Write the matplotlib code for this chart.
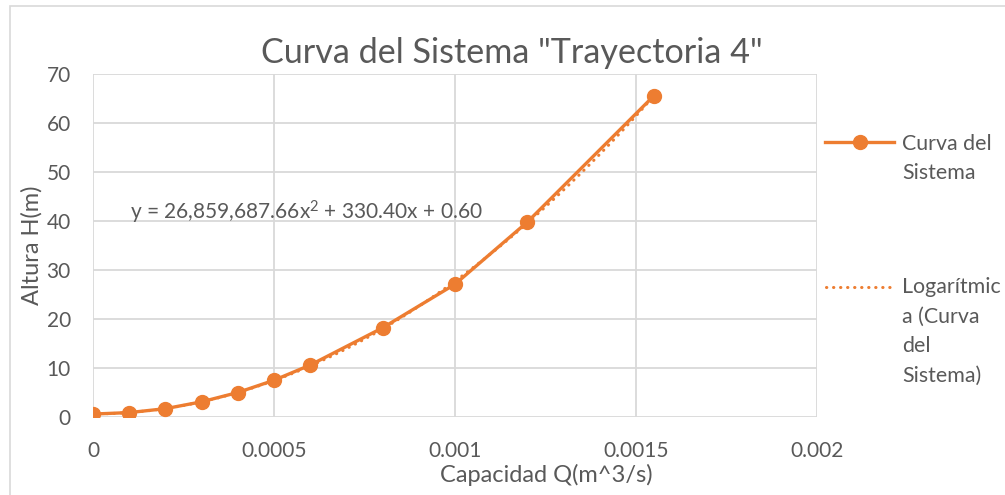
import numpy as np
import matplotlib
matplotlib.use("Agg")
import matplotlib.pyplot as plt
from matplotlib.lines import Line2D
from matplotlib.patches import Rectangle

# Data
caudal = [0, 0.0001, 0.0002, 0.0003, 0.0004, 0.0005, 0.0006, 0.0008, 0.001, 0.0012, 0.00155]
altura = [0.6, 0.9, 1.7, 3.1, 5.0, 7.5, 10.6, 18.2, 27.1, 39.8, 65.6]
x_ticks = [0, 0.0005, 0.001, 0.0015, 0.002]
x_tick_labels = ["0", "0.0005", "0.001", "0.0015", "0.002"]
y_ticks = [0, 10, 20, 30, 40, 50, 60, 70]
title = 'Curva del Sistema "Trayectoria 4"'
x_label = "Capacidad Q(m^3/s)"
y_label = "Altura H(m)"
equation = "y = 26,859,687.66x$^2$ + 330.40x + 0.60"
series_label = ["Curva del", "Sistema"]
trend_label = ["Logarítmic", "a (Curva", "del", "Sistema)"]

W, H = 1005, 495
ORANGE = "#ED7D31"
GRID = "#D9D9D9"
TXT = "#595959"
FONT = "Lato"
DOTS = (0, (0.1, 2.2))
plt.rcParams["font.family"] = [FONT, "DejaVu Sans"]
plt.rcParams["mathtext.fontset"] = "custom"
plt.rcParams["mathtext.rm"] = FONT
plt.rcParams["mathtext.it"] = FONT

fig = plt.figure(figsize=(W / 100, H / 100), dpi=100)
fig.patch.set_facecolor("white")

def fx(px):
    return px / W

def fy(py):
    return 1 - py / H

# outer chart border
fig.add_artist(Rectangle((fx(10), fy(520)), fx(1100) - fx(10), fy(6) - fy(520),
                         transform=fig.transFigure, fill=False, edgecolor=GRID, lw=1.2))

L, R, T, B = 93, 817, 74, 417
ax = fig.add_axes([fx(L), fy(B), fx(R) - fx(L), fy(T) - fy(B)])

# trendline (polynomial order 2 fit of the data)
coef = np.polyfit(caudal, altura, 2)
xs = np.linspace(min(caudal), max(caudal), 200)
ax.plot(xs, np.polyval(coef, xs), linestyle=DOTS, color=ORANGE, lw=2.2,
        dash_capstyle="round", zorder=3)
ax.plot(caudal, altura, color=ORANGE, lw=2.4, marker="o", markersize=10, zorder=4)

ax.set_xlim(0, 0.002)
ax.set_ylim(0, 70)
ax.set_xticks(x_ticks)
ax.set_xticklabels(x_tick_labels)
ax.set_yticks(y_ticks)
ax.grid(True, color=GRID, lw=1.3)
ax.set_axisbelow(True)
for s in ax.spines.values():
    s.set_visible(False)
ax.tick_params(length=0, labelsize=15, labelcolor=TXT)
ax.tick_params(axis="x", pad=17)
ax.tick_params(axis="y", pad=16)

ax.set_xlabel(x_label, fontsize=17, color=TXT)
ax.xaxis.set_label_coords((546 - L) / (R - L), (B - 475) / (B - T))
ax.xaxis.label.set_va("center")
ax.set_ylabel(y_label, fontsize=17, color=TXT)
ax.yaxis.set_label_coords((32 - L) / (R - L), (B - 245) / (B - T))
ax.yaxis.label.set_va("center")

fig.text(fx(512), fy(53), title, fontsize=24.6, color=TXT, ha="center", va="center")
ax.text((130 - L) / (R - L), (B - 212) / (B - T), equation, transform=ax.transAxes,
        fontsize=15, color=TXT, ha="left", va="center")

# legend
fig.add_artist(Line2D([fx(825), fx(894)], [fy(142), fy(142)], color=ORANGE, lw=2.4,
                      transform=fig.transFigure))
fig.add_artist(Line2D([fx(859.5)], [fy(142)], color=ORANGE, marker="o", markersize=10,
                      transform=fig.transFigure))
for i, line in enumerate(series_label):
    fig.text(fx(902), fy(144 + 29.5 * i), line, fontsize=15.4, color=TXT,
             ha="left", va="center")
fig.add_artist(Line2D([fx(826), fx(894)], [fy(287), fy(287)], color=ORANGE, lw=2.2,
                      linestyle=DOTS, dash_capstyle="round",
                      transform=fig.transFigure))
for i, line in enumerate(trend_label):
    fig.text(fx(902), fy(287 + 29.5 * i), line, fontsize=15.4, color=TXT,
             ha="left", va="center")

fig.savefig("out.png", dpi=100, facecolor="white")
